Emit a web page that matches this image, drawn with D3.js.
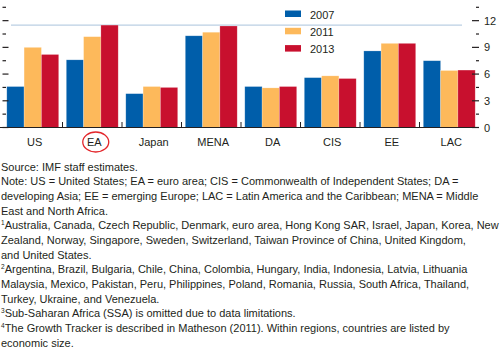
<!DOCTYPE html>
<html>
<head>
<meta charset="utf-8">
<script src="https://cdn.jsdelivr.net/npm/d3@7"></script>
<style>
  body { margin: 0; background: #fff; }
  svg text { font-family: "Liberation Sans", Arial, sans-serif; fill: #231f20; }
</style>
</head>
<body>
<div id="chart"></div>
<script>
// chart data
const regions = ['US', 'EA', 'Japan', 'MENA', 'DA', 'CIS', 'EE', 'LAC'];
const years = ['2007', '2011', '2013'];
const values2007 = [4.6, 7.6, 3.8, 10.3, 4.6, 5.6, 8.6, 7.5];
const values2011 = [9.0, 10.2, 4.6, 10.7, 4.45, 5.8, 9.45, 6.4];
const values2013 = [8.2, 11.5, 4.5, 11.4, 4.6, 5.5, 9.45, 6.45];
const yTicks = [0, 3, 6, 9, 12];
const yMinorTicks = [1.5, 4.5, 7.5, 10.5, 13.5];
const refLine = 11.5;
const circled = 'EA';
const notes = [
  [null, 'Source: IMF staff estimates.'],
  [null, 'Note: US = United States; EA = euro area; CIS = Commonwealth of Independent States; DA ='],
  [null, 'developing Asia; EE = emerging Europe; LAC = Latin America and the Caribbean; MENA = Middle'],
  [null, 'East and North Africa.'],
  ['1', 'Australia, Canada, Czech Republic, Denmark, euro area, Hong Kong SAR, Israel, Japan, Korea, New'],
  [null, 'Zealand, Norway, Singapore, Sweden, Switzerland, Taiwan Province of China, United Kingdom,'],
  [null, 'and United States.'],
  ['2', 'Argentina, Brazil, Bulgaria, Chile, China, Colombia, Hungary, India, Indonesia, Latvia, Lithuania'],
  [null, 'Malaysia, Mexico, Pakistan, Peru, Philippines, Poland, Romania, Russia, South Africa, Thailand,'],
  [null, 'Turkey, Ukraine, and Venezuela.'],
  ['3', 'Sub-Saharan Africa (SSA) is omitted due to data limitations.'],
  ['4', 'The Growth Tracker is described in Matheson (2011). Within regions, countries are listed by'],
  [null, 'economic size.']
];

const series = [values2007, values2011, values2013];
const colors = d3.scaleOrdinal().domain(years).range(['#005eaa', '#fdb95b', '#c8102e']);

const width = 500, height = 354;
const svg = d3.select('#chart').append('svg')
  .attr('width', width)
  .attr('height', height);

// scales
const x0 = d3.scaleBand().domain(regions).range([3, 479]).padding(0);
const pad = 3.8;
const x1 = d3.scaleBand().domain(years).range([pad, x0.bandwidth() - pad]).padding(0);
const y = d3.scaleLinear().domain([0, 13.5]).range([127.5, 7.3]);

// reference line
svg.append('line')
  .attr('x1', 11).attr('x2', 462)
  .attr('y1', y(refLine)).attr('y2', y(refLine))
  .attr('stroke', '#a9c3dc').attr('stroke-width', 1);

// bars
const groups = svg.append('g').selectAll('g')
  .data(regions)
  .join('g')
  .attr('transform', d => `translate(${x0(d)},0)`);

groups.selectAll('rect')
  .data((d, i) => years.map((yr, j) => ({ year: yr, value: series[j][i] })))
  .join('rect')
  .attr('x', d => x1(d.year))
  .attr('y', d => y(d.value))
  .attr('width', x1.bandwidth())
  .attr('height', d => y(0) - y(d.value))
  .attr('fill', d => colors(d.year))
  .attr('stroke', '#ffffff')
  .attr('stroke-opacity', 0.35)
  .attr('stroke-width', 0.6);

// baseline
svg.append('line')
  .attr('x1', 0).attr('x2', 479)
  .attr('y1', y(0)).attr('y2', y(0))
  .attr('stroke', '#231f20').attr('stroke-width', 1.2);

// category separators
svg.append('g').selectAll('line')
  .data(regions.slice(1))
  .join('line')
  .attr('x1', d => x0(d)).attr('x2', d => x0(d))
  .attr('y1', y(0) - 5.5).attr('y2', y(0))
  .attr('stroke', '#231f20').attr('stroke-width', 1);

// category labels
svg.append('g').selectAll('text')
  .data(regions)
  .join('text')
  .attr('x', d => x0(d) + x0.bandwidth() / 2 + 2)
  .attr('y', 145.5)
  .attr('text-anchor', 'middle')
  .attr('font-size', 11)
  .text(d => d);

// circle around EA
svg.append('ellipse')
  .attr('cx', x0(circled) + x0.bandwidth() / 2 + 3.5)
  .attr('cy', 142)
  .attr('rx', 13).attr('ry', 10)
  .attr('fill', 'none')
  .attr('stroke', '#e3262b').attr('stroke-width', 1.3);

// right axis
const rightAxis = d3.axisRight(y).tickValues(yTicks).tickSize(0).tickPadding(5);
const ra = svg.append('g').attr('transform', 'translate(479,0)').call(rightAxis);
ra.select('.domain').remove();
ra.selectAll('text').attr('font-size', 11).attr('fill', '#231f20');
ra.attr('font-family', null);
svg.append('g').selectAll('line')
  .data(yTicks)
  .join('line')
  .attr('x1', 472).attr('x2', 479)
  .attr('y1', d => y(d)).attr('y2', d => y(d))
  .attr('stroke', '#231f20').attr('stroke-width', 1.2);
svg.append('g').selectAll('line')
  .data(yMinorTicks)
  .join('line')
  .attr('x1', 476).attr('x2', 479)
  .attr('y1', d => y(d)).attr('y2', d => y(d))
  .attr('stroke', '#231f20').attr('stroke-width', 1.2);

// left ticks (no labels)
svg.append('g').selectAll('line')
  .data(yTicks)
  .join('line')
  .attr('x1', 2.5).attr('x2', 8.5)
  .attr('y1', d => y(d)).attr('y2', d => y(d))
  .attr('stroke', '#231f20').attr('stroke-width', 1.2);
svg.append('g').selectAll('line')
  .data(yMinorTicks)
  .join('line')
  .attr('x1', 2.5).attr('x2', 6)
  .attr('y1', d => y(d)).attr('y2', d => y(d))
  .attr('stroke', '#231f20').attr('stroke-width', 1.2);

// legend
const legend = svg.append('g').selectAll('g')
  .data(years)
  .join('g')
  .attr('transform', (d, i) => `translate(285,${10.5 + i * 17.3})`);
legend.append('rect')
  .attr('width', 16).attr('height', 6.5)
  .attr('fill', d => colors(d));
legend.append('text')
  .attr('x', 25).attr('y', 8.3)
  .attr('font-size', 11)
  .text(d => d);

// notes
const noteText = svg.append('g').selectAll('text')
  .data(notes)
  .join('text')
  .attr('x', 1)
  .attr('y', (d, i) => 170.7 + i * 14.67)
  .attr('font-size', 11);
noteText.filter(d => d[0]).append('tspan')
  .attr('font-size', 6.5)
  .attr('dy', -4)
  .text(d => d[0]);
noteText.append('tspan')
  .attr('dy', d => d[0] ? 4 : 0)
  .text(d => d[1]);
</script>
</body>
</html>
